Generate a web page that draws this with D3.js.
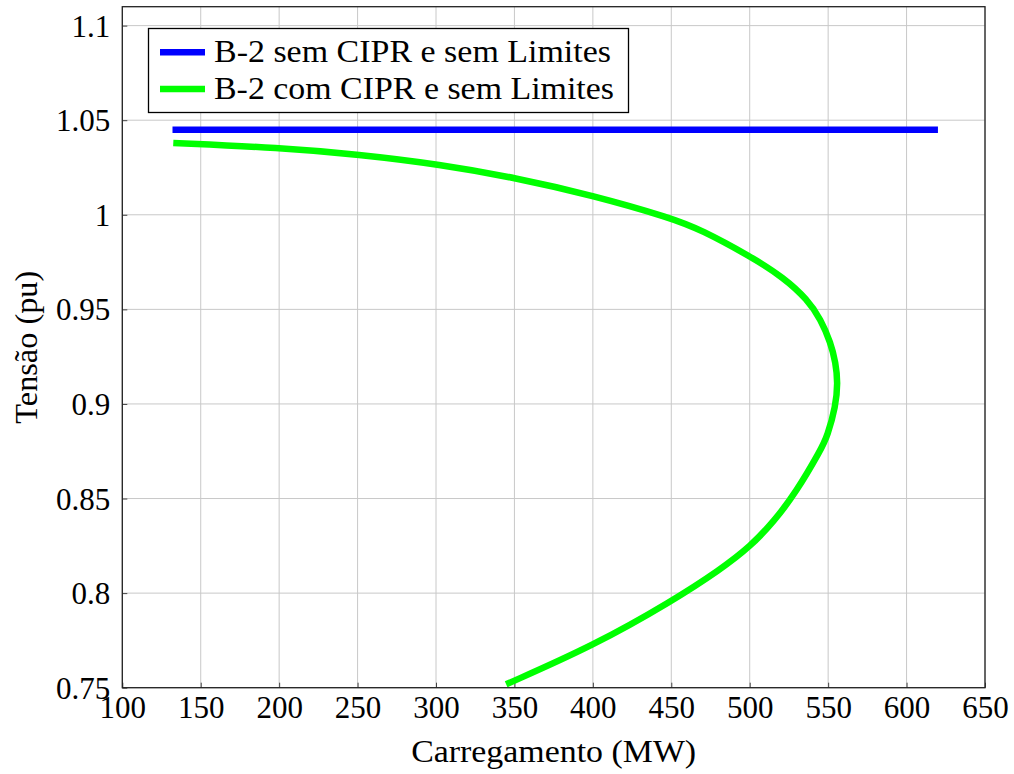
<!DOCTYPE html>
<html>
<head>
<meta charset="utf-8">
<script src="https://cdn.jsdelivr.net/npm/d3@7"></script>
<style>
  html, body { margin: 0; padding: 0; background: #fff; }
  svg { display: block; }
</style>
</head>
<body>
<svg id="chart" width="1014" height="774"></svg>
<script>
// ---- data ----
const xTicks = [100, 150, 200, 250, 300, 350, 400, 450, 500, 550, 600, 650];
const yTicks = [0.75, 0.8, 0.85, 0.9, 0.95, 1, 1.05, 1.1];
const yTickLabels = ["0.75", "0.8", "0.85", "0.9", "0.95", "1", "1.05", "1.1"];

const seriesNames = ["B-2 sem CIPR e sem Limites", "B-2 com CIPR e sem Limites"];
const seriesColors = ["#0000ff", "#00ff00"];

const blueLoad = [132, 620];
const blueVolt = [1.045, 1.045];

const greenLoad = [132.5, 200.6, 250.6, 302.7, 350.4, 400.4, 450.4, 468.7, 500.6, 521.8, 536.8, 545.3, 551.6, 554.8, 556.2, 554.8, 549.5, 545.5, 529.3, 515.5, 500.6, 481.4, 450.6, 400.4, 344.7];
const greenVolt = [1.038, 1.0354, 1.0319, 1.0266, 1.0196, 1.0102, 0.9982, 0.9922, 0.978, 0.9667, 0.9552, 0.9447, 0.9324, 0.9218, 0.9112, 0.8988, 0.883, 0.876, 0.853, 0.838, 0.8248, 0.8125, 0.7958, 0.7722, 0.7518];

// ---- layout ----
const FONT = "'Liberation Serif', 'Times New Roman', serif";
const L = 122.3, R = 985, T = 6.7, B = 687.7;
const svg = d3.select("#chart");
const x = d3.scaleLinear().domain([100, 650]).range([L, R]);
const y = d3.scaleLinear().domain([0.75, 1.11]).range([B, T]);

// grid
const grid = svg.append("g");
grid.selectAll(".gx").data(xTicks).join("line")
  .attr("x1", d => x(d)).attr("x2", d => x(d)).attr("y1", T).attr("y2", B)
  .attr("stroke", "#c8c8c8").attr("stroke-width", 1);
grid.selectAll(".gy").data(yTicks).join("line")
  .attr("x1", L).attr("x2", R).attr("y1", d => y(d)).attr("y2", d => y(d))
  .attr("stroke", "#c8c8c8").attr("stroke-width", 1);

// axes (ticks inside, labels)
const xAxis = d3.axisBottom(x).tickValues(xTicks).tickSize(-5).tickPadding(12).tickFormat(d3.format("d"));
const yAxis = d3.axisLeft(y).tickValues(yTicks).tickSize(-5).tickPadding(12).tickFormat((d, i) => yTickLabels[i]);
const gx = svg.append("g").attr("transform", `translate(0,${B})`).call(xAxis);
const gy = svg.append("g").attr("transform", `translate(${L},0)`).call(yAxis);
[gx, gy].forEach(g => {
  g.attr("font-family", null).attr("font-size", null);
  g.select(".domain").remove();
  g.selectAll(".tick line").attr("stroke", "#444").attr("stroke-width", 1);
  g.selectAll(".tick text").style("font-family", FONT).style("font-size", "31px").attr("fill", "#000");
});
gx.selectAll(".tick text").attr("dy", null).attr("y", 30);
gy.selectAll(".tick text").attr("x", -12).attr("dy", "0.34em");

// lines
const line = d3.line().x(d => x(d[0])).y(d => y(d[1])).curve(d3.curveBasis);
const plot = svg.append("g");
plot.append("path")
  .datum(blueLoad.map((v, i) => [v, blueVolt[i]]))
  .attr("d", line).attr("fill", "none").attr("stroke", seriesColors[0]).attr("stroke-width", 6.5);
plot.append("path")
  .datum(greenLoad.map((v, i) => [v, greenVolt[i]]))
  .attr("d", line).attr("fill", "none").attr("stroke", seriesColors[1]).attr("stroke-width", 6.5)
  .attr("stroke-linejoin", "round");

// frame
svg.append("rect").attr("x", L).attr("y", T).attr("width", R - L).attr("height", B - T)
  .attr("fill", "none").attr("stroke", "#222").attr("stroke-width", 1.3);

// legend
const lg = svg.append("g");
lg.append("rect").attr("x", 148.5).attr("y", 28.5).attr("width", 480).attr("height", 84)
  .attr("fill", "#fff").attr("stroke", "#000").attr("stroke-width", 1.3);
seriesNames.forEach((name, i) => {
  const cy = 52.3 + i * 36.7;
  lg.append("line").attr("x1", 160).attr("x2", 205).attr("y1", cy).attr("y2", cy)
    .attr("stroke", seriesColors[i]).attr("stroke-width", 6.5);
  lg.append("text").attr("x", 214).attr("y", cy + 10)
    .style("font-family", FONT).style("font-size", "31px")
    .attr("textLength", i === 0 ? 397 : 400).attr("lengthAdjust", "spacingAndGlyphs")
    .text(name);
});

// axis titles
svg.append("text").attr("x", (L + R) / 2).attr("y", 762).attr("text-anchor", "middle")
  .style("font-family", FONT).style("font-size", "31px")
  .attr("textLength", 285).attr("lengthAdjust", "spacingAndGlyphs")
  .text("Carregamento (MW)");
svg.append("text").attr("transform", `translate(37,${(T + B) / 2}) rotate(-90)`)
  .attr("text-anchor", "middle")
  .style("font-family", FONT).style("font-size", "31px")
  .attr("textLength", 153).attr("lengthAdjust", "spacingAndGlyphs")
  .text("Tensão (pu)");
</script>
</body>
</html>
